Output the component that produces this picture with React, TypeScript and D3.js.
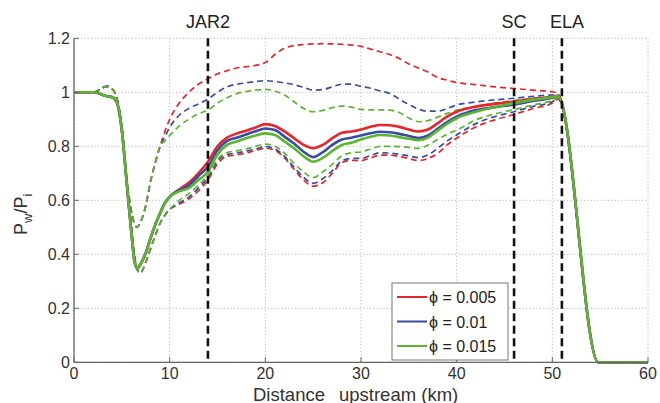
import React from "react";
import * as d3 from "d3";

const distance = [0,2,2.5,3,3.5,4,4.5,5,5.5,6,6.3,6.6,6.9,7.5,8,8.5,9,9.5,10,
  11,12,13,14,15,16,17,18,19,20,21,22,23,24,25,26,27,28,29,30,31,32,33,34,35,36,37,38,39,40,
  42,44,46,48,50,50.6,54.8,60];

const upStart = [1,1.0,1.006,1.017,1.022,1.012,0.975,0.87,0.68,0.56,0.515,0.50,0.515,0.58,0.67,0.74,0.80];
const solidStart = [1,1.0,0.997,0.99,0.985,0.982,0.96,0.86,0.67,0.48,0.38,0.348,0.36,0.405,0.46,0.51,0.552,0.59,0.613];
const lowStart = [1,1.0,1.006,1.017,1.022,1.012,0.975,0.87,0.68,0.50,0.40,0.345,0.33,0.37,0.42,0.47,0.515,0.545,0.566];

const redUpper = [...upStart, 0.855,0.90,
  0.96,1.0,1.03,1.05,1.068,1.08,1.09,1.095,1.10,1.11,1.14,1.163,1.173,1.177,1.179,1.18,1.179,1.178,1.175,1.17,1.16,1.15,1.14,1.125,1.105,1.09,1.075,1.055,1.045,1.036,
  1.028,1.02,1.014,1.008,1.002,0.995,0,0];
const blueUpper = [...upStart, 0.835,0.87,
  0.915,0.94,0.957,0.975,1.0,1.02,1.03,1.035,1.04,1.043,1.04,1.035,1.028,1.018,1.008,1.01,1.02,1.03,1.03,1.022,1.015,1.005,0.996,0.975,0.955,0.938,0.93,0.93,0.94,0.953,
  0.964,0.972,0.978,0.985,0.99,0.988,0,0];
const greenUpper = [...upStart, 0.82,0.84,
  0.875,0.90,0.92,0.934,0.96,0.98,0.995,1.003,1.008,1.011,1.005,0.99,0.965,0.94,0.928,0.933,0.943,0.949,0.945,0.937,0.935,0.935,0.934,0.925,0.905,0.891,0.895,0.908,0.922,0.934,
  0.947,0.96,0.97,0.978,0.984,0.985,0,0];

const redSolid = [...solidStart,
  0.64,0.665,0.70,0.743,0.80,0.832,0.847,0.858,0.87,0.882,0.875,0.855,0.83,0.805,0.793,0.805,0.83,0.85,0.855,0.862,0.872,0.879,0.878,0.872,0.862,0.855,0.862,0.885,0.91,0.928,
  0.947,0.957,0.966,0.975,0.983,0.988,0,0];
const blueSolid = [...solidStart,
  0.637,0.655,0.69,0.724,0.785,0.82,0.832,0.844,0.856,0.866,0.86,0.836,0.81,0.78,0.76,0.778,0.805,0.825,0.832,0.84,0.848,0.854,0.852,0.846,0.838,0.831,0.84,0.865,0.89,0.91,
  0.934,0.945,0.955,0.968,0.98,0.986,0,0];
const greenSolid = [...solidStart,
  0.633,0.645,0.675,0.706,0.77,0.805,0.818,0.83,0.84,0.848,0.842,0.818,0.793,0.763,0.743,0.757,0.783,0.805,0.813,0.825,0.835,0.842,0.84,0.834,0.828,0.823,0.832,0.858,0.883,0.904,
  0.928,0.945,0.96,0.972,0.982,0.986,0,0];

const redLower = [...lowStart,
  0.585,0.605,0.635,0.675,0.735,0.763,0.768,0.775,0.785,0.793,0.785,0.757,0.715,0.675,0.652,0.665,0.70,0.74,0.748,0.747,0.757,0.767,0.767,0.762,0.755,0.747,0.755,0.773,0.805,0.83,
  0.872,0.898,0.918,0.94,0.96,0.975,0,0];
const blueLower = [...lowStart,
  0.59,0.612,0.645,0.685,0.745,0.77,0.775,0.782,0.79,0.799,0.79,0.763,0.722,0.685,0.663,0.68,0.71,0.746,0.755,0.755,0.766,0.776,0.775,0.77,0.765,0.758,0.768,0.792,0.82,0.842,
  0.884,0.91,0.928,0.948,0.965,0.978,0,0];
const greenLower = [...lowStart,
  0.60,0.625,0.655,0.694,0.752,0.777,0.783,0.79,0.80,0.808,0.80,0.775,0.737,0.705,0.684,0.705,0.733,0.765,0.776,0.779,0.79,0.80,0.80,0.799,0.796,0.792,0.805,0.825,0.845,0.86,
  0.898,0.92,0.936,0.953,0.97,0.98,0,0];

const xTicks = [0,10,20,30,40,50,60];
const yTicks = [0,0.2,0.4,0.6,0.8,1,1.2];
const markers = [{ label: "JAR2", x: 14 }, { label: "SC", x: 46 }, { label: "ELA", x: 51 }];
const legendLabels = ["ϕ = 0.005", "ϕ = 0.01", "ϕ = 0.015"];
const colors = ["#e8262a", "#3a4ba6", "#5bb531"];

export default function App() {
  const x = d3.scaleLinear().domain([0, 60]).range([74, 648]);
  const y = d3.scaleLinear().domain([0, 1.2]).range([362.3, 38.3]);
  const line = d3.line<number>()
    .x((_, i) => x(distance[i]))
    .y((d) => y(d))
    .curve(d3.curveMonotoneX);

  const dashed = [
    { v: redUpper, c: colors[0] }, { v: blueUpper, c: colors[1] }, { v: greenUpper, c: colors[2] },
    { v: redLower, c: colors[0] }, { v: blueLower, c: colors[1] }, { v: greenLower, c: colors[2] },
  ];
  const solid = [
    { v: redSolid, c: colors[0] }, { v: blueSolid, c: colors[1] }, { v: greenSolid, c: colors[2] },
  ];
  const font = "'Liberation Sans', Arial, sans-serif";
  const [x0, x1] = x.range();
  const [y0, y1] = y.range();

  return (
    <svg width={660} height={403} style={{ position: "absolute", left: 0, top: 0, background: "#fff" }} fontFamily={font}>
      <rect width={660} height={403} fill="#fff" />
      {xTicks.map((t) => (
        <line key={"gx" + t} x1={x(t)} x2={x(t)} y1={y0} y2={y1} stroke="#b8b8b8" strokeWidth={1} strokeDasharray="1.2,2.2" />
      ))}
      {yTicks.map((t) => (
        <line key={"gy" + t} x1={x0} x2={x1} y1={y(t)} y2={y(t)} stroke="#b8b8b8" strokeWidth={1} strokeDasharray="1.2,2.2" />
      ))}
      {dashed.map((s, i) => (
        <path key={"d" + i} d={line(s.v) || ""} fill="none" stroke={s.c} strokeWidth={1.7} strokeDasharray="6,4" />
      ))}
      {solid.map((s, i) => (
        <path key={"s" + i} d={line(s.v) || ""} fill="none" stroke={s.c} strokeWidth={2.6} />
      ))}
      {markers.map((m) => (
        <g key={m.label}>
          <line x1={x(m.x)} x2={x(m.x)} y1={y1} y2={y0} stroke="#111" strokeWidth={2.6} strokeDasharray="8,4.5" />
          <text x={x(m.x) + (m.label === "ELA" ? 5 : 0)} y={28} textAnchor="middle" fontSize={18} fill="#222">{m.label}</text>
        </g>
      ))}
      <line x1={x0} x2={x1} y1={y0} y2={y0} stroke="#666" strokeWidth={1.3} />
      <line x1={x0} x2={x0} y1={y0} y2={y1} stroke="#666" strokeWidth={1.3} />
      {xTicks.map((t) => (
        <g key={"xt" + t}>
          <line x1={x(t)} x2={x(t)} y1={y0} y2={y0 - 5} stroke="#666" />
          <text x={x(t)} y={379} textAnchor="middle" fontSize={16} fill="#333">{t}</text>
        </g>
      ))}
      {yTicks.map((t) => (
        <g key={"yt" + t}>
          <line x1={x0} x2={x0 + 5} y1={y(t)} y2={y(t)} stroke="#666" />
          <text x={70} y={y(t) + 5.5} textAnchor="end" fontSize={16} fill="#333">{t}</text>
        </g>
      ))}
      <text x={253} y={400.5} fontSize={18.5} fill="#333">
        Distance<tspan dx={14}>upstream (km)</tspan>
      </text>
      <text transform="translate(27,235) rotate(-90)" fontSize={18} fill="#333">
        P<tspan fontSize={13} dy={5}>w</tspan><tspan dy={-5}>/P</tspan><tspan fontSize={13} dy={5}>i</tspan>
      </text>
      <rect x={392} y={283} width={116} height={77} fill="#fff" stroke="#777" strokeWidth={1} />
      {legendLabels.map((l, i) => (
        <g key={l}>
          <line x1={397} x2={427} y1={297 + i * 24.5} y2={297 + i * 24.5} stroke={colors[i]} strokeWidth={2} />
          <text x={429} y={303 + i * 24.5} fontSize={16} fill="#222">{l}</text>
        </g>
      ))}
    </svg>
  );
}
